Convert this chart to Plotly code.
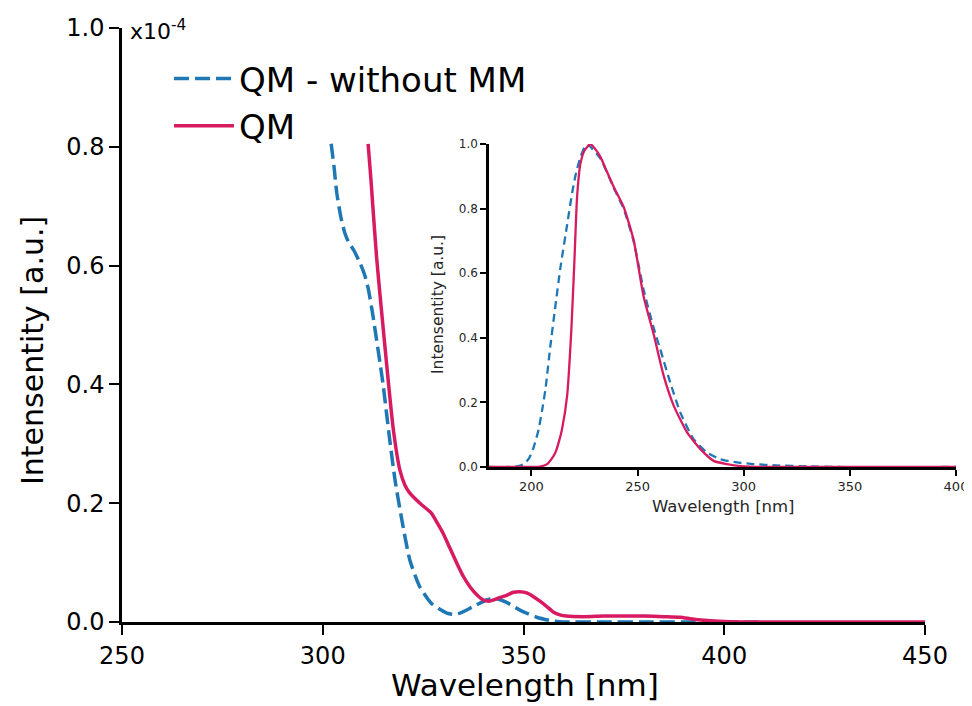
import plotly.graph_objects as go

# ---- Main panel data (intensity in units of 1e-4) ----
main_nomm_x = [302.1, 302.8, 303.5, 304.5, 305.5, 306.4, 307.8, 309.3, 310.4, 311.3,
               312.4, 313.4, 314.4, 315.1, 316.0, 316.7, 318.0, 319.7, 321.7, 324.2,
               327.1, 330.9, 332.5, 334.2, 337.5, 340.8, 342.9, 345.8, 349.1, 353.3,
               357.0, 360.0, 370.0, 380.0, 390.0, 400.0, 409.0]
main_nomm_y = [0.805, 0.767, 0.722, 0.682, 0.655, 0.640, 0.625, 0.604, 0.585, 0.562,
               0.520, 0.475, 0.430, 0.396, 0.345, 0.306, 0.239, 0.172, 0.104, 0.059,
               0.031, 0.015, 0.013, 0.015, 0.026, 0.037, 0.040, 0.033, 0.020, 0.008,
               0.002, 0.0, 0.0, 0.0, 0.0, 0.0, 0.0]

main_qm_x = [311.3, 312.0, 312.6, 313.4, 314.3, 315.4, 316.3, 317.6, 319.2, 320.5,
             321.7, 324.2, 327.1, 328.5, 330.0, 331.7, 333.4, 335.0, 336.7, 338.5,
             340.0, 341.5, 342.5, 344.0, 345.8, 347.5, 349.1, 350.8, 352.4, 354.1,
             355.8, 357.4, 359.1, 360.7, 365.0, 370.0, 375.0, 380.0, 385.0, 389.0,
             392.0, 395.0, 400.0, 410.0, 450.0]
main_qm_y = [0.805, 0.745, 0.688, 0.615, 0.548, 0.470, 0.407, 0.323, 0.256, 0.230,
             0.217, 0.200, 0.183, 0.167, 0.149, 0.124, 0.099, 0.077, 0.059, 0.045,
             0.037, 0.035, 0.037, 0.041, 0.045, 0.050, 0.051, 0.049, 0.043, 0.035,
             0.026, 0.017, 0.012, 0.010, 0.009, 0.010, 0.010, 0.010, 0.009, 0.008,
             0.005, 0.003, 0.001, 0.0, 0.0]

# ---- Inset data (normalised intensity) ----
inset_nomm_x = [180, 190, 193.3, 196, 198.7, 201, 203.4, 205, 206.6, 208.9, 211.3,
                213.6, 216.8, 219.2, 221, 223.1, 225, 226.5, 228, 232.5, 238.7,
                243.4, 248.1, 252.8, 257.6, 260.7, 265.4, 270.1, 276.4, 282.7, 289,
                296.8, 304.6, 315, 330, 345, 400]
inset_nomm_y = [0.0, 0.0, 0.002, 0.008, 0.025, 0.06, 0.117, 0.175, 0.241, 0.374, 0.50,
                0.615, 0.75, 0.85, 0.91, 0.96, 0.99, 1.0, 0.99, 0.955, 0.865,
                0.80, 0.70, 0.55, 0.43, 0.364, 0.261, 0.169, 0.086, 0.045, 0.024,
                0.014, 0.009, 0.005, 0.002, 0.0, 0.0]

inset_qm_x = [180, 200, 204, 207.4, 209.5, 211.3, 213, 214.4, 216.8, 218.8, 220.2,
              221.5, 223.1, 225, 227.8, 230, 232.5, 235.5, 238.7, 243.4, 248.1,
              252.8, 257.6, 262.3, 267, 273.3, 279.5, 285.8, 292.1, 298.4, 310, 400]
inset_qm_y = [0.0, 0.0, 0.001, 0.009, 0.025, 0.045, 0.08, 0.117, 0.22, 0.426, 0.632,
              0.837, 0.94, 0.98, 1.0, 0.985, 0.96, 0.915, 0.868, 0.806, 0.704,
              0.529, 0.41, 0.282, 0.19, 0.107, 0.056, 0.019, 0.009, 0.003, 0.0, 0.0]

main_xticks = [250, 300, 350, 400, 450]
main_yticks = [0.0, 0.2, 0.4, 0.6, 0.8, 1.0]
inset_xticks = [200, 250, 300, 350, 400]
inset_yticks = [0.0, 0.2, 0.4, 0.6, 0.8, 1.0]

BLUE = "#1f77b4"
RED = "#d81b60"
FONT = "DejaVu Sans"
OFF = 8                      # page body margin offset
W, H = 964, 698


def px(x):
    return (x - OFF) / W


def py(y):
    return (H - (y - OFF)) / H


fig = go.Figure()
fig.add_trace(go.Scatter(x=main_nomm_x, y=main_nomm_y, mode="lines", name="QM - without MM",
                         line=dict(color=BLUE, width=3.5, dash="15px,6px", shape="spline", smoothing=0.6),
                         xaxis="x", yaxis="y"))
fig.add_trace(go.Scatter(x=main_qm_x, y=main_qm_y, mode="lines", name="QM",
                         line=dict(color=RED, width=3.5, shape="spline", smoothing=0.6),
                         xaxis="x", yaxis="y"))
fig.add_trace(go.Scatter(x=inset_nomm_x, y=inset_nomm_y, mode="lines", showlegend=False,
                         line=dict(color=BLUE, width=2.3, dash="8px,5px", shape="spline", smoothing=0.5),
                         xaxis="x2", yaxis="y2"))
fig.add_trace(go.Scatter(x=inset_qm_x, y=inset_qm_y, mode="lines", showlegend=False,
                         line=dict(color=RED, width=2.3, shape="spline", smoothing=0.5),
                         xaxis="x2", yaxis="y2"))

axis_common = dict(showline=True, linecolor="black", showgrid=False, zeroline=False,
                   ticks="outside", tickcolor="black", mirror=False, automargin=False)

fig.update_layout(
    width=W, height=H,
    margin=dict(l=0, r=0, t=0, b=0, autoexpand=False),
    paper_bgcolor="white", plot_bgcolor="white",
    font=dict(family=FONT, color="black"),
    xaxis=dict(**axis_common, domain=[px(122), px(925)], range=[250, 450],
               tickvals=main_xticks, ticktext=[str(v) for v in main_xticks],
               linewidth=2.5, ticklen=10, tickwidth=2, tickfont=dict(size=24), anchor="y"),
    yaxis=dict(**axis_common, domain=[py(622), py(28)], range=[0, 1.0],
               tickvals=main_yticks, ticktext=[f"{v:.1f}" for v in main_yticks],
               linewidth=2.5, ticklen=10, tickwidth=2, tickfont=dict(size=24), anchor="x"),
    xaxis2=dict(**axis_common, domain=[px(489), px(956)], range=[180, 400],
                tickvals=inset_xticks, ticktext=[str(v) for v in inset_xticks],
                linewidth=2.5, ticklen=6, tickwidth=2, tickfont=dict(size=13, color="#262626"),
                anchor="y2"),
    yaxis2=dict(**axis_common, domain=[py(467), py(144)], range=[0, 1.0],
                tickvals=inset_yticks, ticktext=[f"{v:.1f}" for v in inset_yticks],
                linewidth=2.5, ticklen=6, tickwidth=2, tickfont=dict(size=12, color="#262626"),
                anchor="x2"),
    legend=dict(x=px(169), y=py(50), xanchor="left", yanchor="top",
                font=dict(size=34, family=FONT, color="black"),
                bgcolor="rgba(0,0,0,0)", itemwidth=60, tracegroupgap=0),
    annotations=[
        dict(text="x10<sup>-4</sup>", xref="paper", yref="paper", x=px(128), y=py(14),
             xanchor="left", yanchor="top", showarrow=False, font=dict(size=22, color="black")),
        dict(text="Intensentity [a.u.]", xref="paper", yref="paper", x=px(32), y=py(351),
             xanchor="center", yanchor="middle", textangle=-90, showarrow=False,
             font=dict(size=30, color="black")),
        dict(text="Wavelength [nm]", xref="paper", yref="paper", x=px(525), y=py(685),
             xanchor="center", yanchor="middle", showarrow=False, font=dict(size=31, color="black")),
        dict(text="Intensentity [a.u.]", xref="paper", yref="paper", x=px(438), y=py(305),
             xanchor="center", yanchor="middle", textangle=-90, showarrow=False,
             font=dict(size=15.5, color="#262626")),
        dict(text="Wavelength [nm]", xref="paper", yref="paper", x=px(723), y=py(506),
             xanchor="center", yanchor="middle", showarrow=False, font=dict(size=16.5, color="#262626")),
    ],
)

fig.write_html("out.html")
